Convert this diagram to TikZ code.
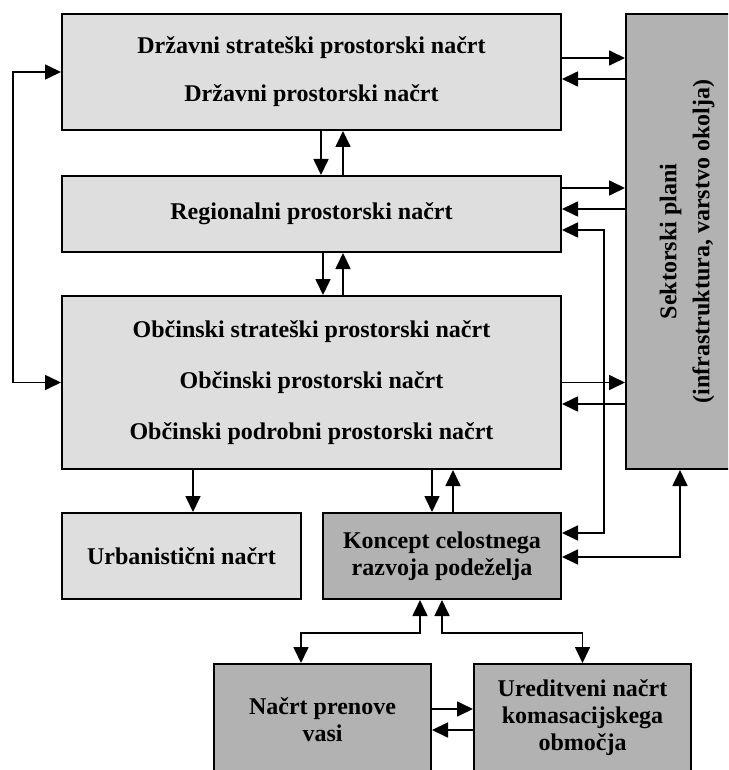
\documentclass[tikz,border=0pt]{standalone}
\usepackage{fontspec}
\setmainfont{Liberation Serif}
\usetikzlibrary{arrows.meta}
\definecolor{boxlight}{HTML}{DEDEDE}
\definecolor{boxdark}{HTML}{B2B2B2}
\begin{document}
\begin{tikzpicture}[x=1pt,y=-1pt,
  box/.style={draw=black, line width=2pt, rectangle, inner sep=0pt, align=center,
    font=\bfseries\fontsize{24}{27}\selectfont},
  light/.style={box, fill=boxlight},
  dark/.style={box, fill=boxdark},
  label/.style={inner sep=0pt, align=center},
  tip/.tip={Triangle[length=16pt,width=15pt]},
  link/.style={line width=1.7pt, -tip},
  both/.style={line width=1.7pt, tip-tip}]

\useasboundingbox (0,0) rectangle (728,770);
\clip (0,0) rectangle (728,770);

% planning levels
\node[light, minimum width=499pt, minimum height=116pt,
      font=\bfseries\fontsize{24}{48}\selectfont] (drz) at (311.5,72)
  {Državni strateški prostorski načrt\\Državni prostorski načrt};
\node[light, minimum width=499pt, minimum height=76pt] (reg) at (311.5,214)
  {Regionalni prostorski načrt};
\node[light, minimum width=499pt, minimum height=173pt,
      font=\bfseries\fontsize{24}{51}\selectfont] (obc) at (311.5,382.5)
  {Občinski strateški prostorski načrt\\Občinski prostorski načrt\\Občinski podrobni prostorski načrt};

% sector plans
\node[dark, minimum width=122pt, minimum height=455pt] (sek) at (687,241.5) {};
\node[label, rotate=90, font=\bfseries\fontsize{24}{33}\selectfont] (sektxt) at (687,241.5)
  {Sektorski plani\\(infrastruktura, varstvo okolja)};

% lower plans
\node[light, minimum width=239pt, minimum height=86pt] (urb) at (181.5,556)
  {Urbanistični načrt};
\node[dark, minimum width=238pt, minimum height=86pt] (kon) at (442,556)
  {Koncept celostnega\\razvoja podeželja};
\node[dark, minimum width=217pt, minimum height=112pt] (nac) at (322.5,720)
  {Načrt prenove\\vasi};
\node[dark, minimum width=217pt, minimum height=108pt] (ure) at (582.5,718)
  {Ureditveni načrt\\komasacijskega\\območja};

% left loop between state and municipal level
\draw[both] (drz.west) -- ++(-48,0) |- (obc.west);

% vertical links between levels
\draw[link] ([xshift=9.5pt]drz.south) -- ([xshift=9.5pt]reg.north);
\draw[link] ([xshift=31.5pt]reg.north) -- ([xshift=31.5pt]drz.south);
\draw[link] ([xshift=11.5pt]reg.south) -- ([xshift=11.5pt]obc.north);
\draw[link] ([xshift=31.5pt]obc.north) -- ([xshift=31.5pt]reg.south);

% links to sector plans
\draw[link] ([yshift=14pt]drz.east) -- ([yshift=14pt]drz.east -| sek.west);
\draw[link] ([yshift=-7pt]drz.east -| sek.west) -- ([yshift=-7pt]drz.east);
\draw[link] ([yshift=26pt]reg.east) -- ([yshift=26pt]reg.east -| sek.west);
\draw[link] ([yshift=5pt]reg.east -| sek.west) -- ([yshift=5pt]reg.east);
\draw[link] (obc.east) -- (obc.east -| sek.west);
\draw[link] ([yshift=-21.5pt]obc.east -| sek.west) -- ([yshift=-21.5pt]obc.east);

% municipal level downwards
\draw[link] ([xshift=11.5pt]urb.north |- obc.south) -- ([xshift=11.5pt]urb.north);
\draw[link] ([xshift=-10pt]kon.north |- obc.south) -- ([xshift=-10pt]kon.north);
\draw[link] ([xshift=11pt]kon.north) -- ([xshift=11pt]kon.north |- obc.south);

% rural development concept links
\draw[both] ([yshift=23pt]kon.east) -- ++(42,0) |- ([yshift=-16pt]reg.east);
\draw[both] ([yshift=-1pt]kon.east) -| ([xshift=-7pt]sek.south);
\draw[both] ([xshift=-22pt]kon.south) -- ++(0,33) -| ([xshift=-21.5pt]nac.north);
\draw[both] (kon.south) -- ++(0,33) -| (ure.north);

% village renewal and land consolidation
\draw[link] ([yshift=11pt]nac.east) -- ([yshift=11pt]nac.east -| ure.west);
\draw[link] ([yshift=-10pt]nac.east -| ure.west) -- ([yshift=-10pt]nac.east);

\end{tikzpicture}
\end{document}
